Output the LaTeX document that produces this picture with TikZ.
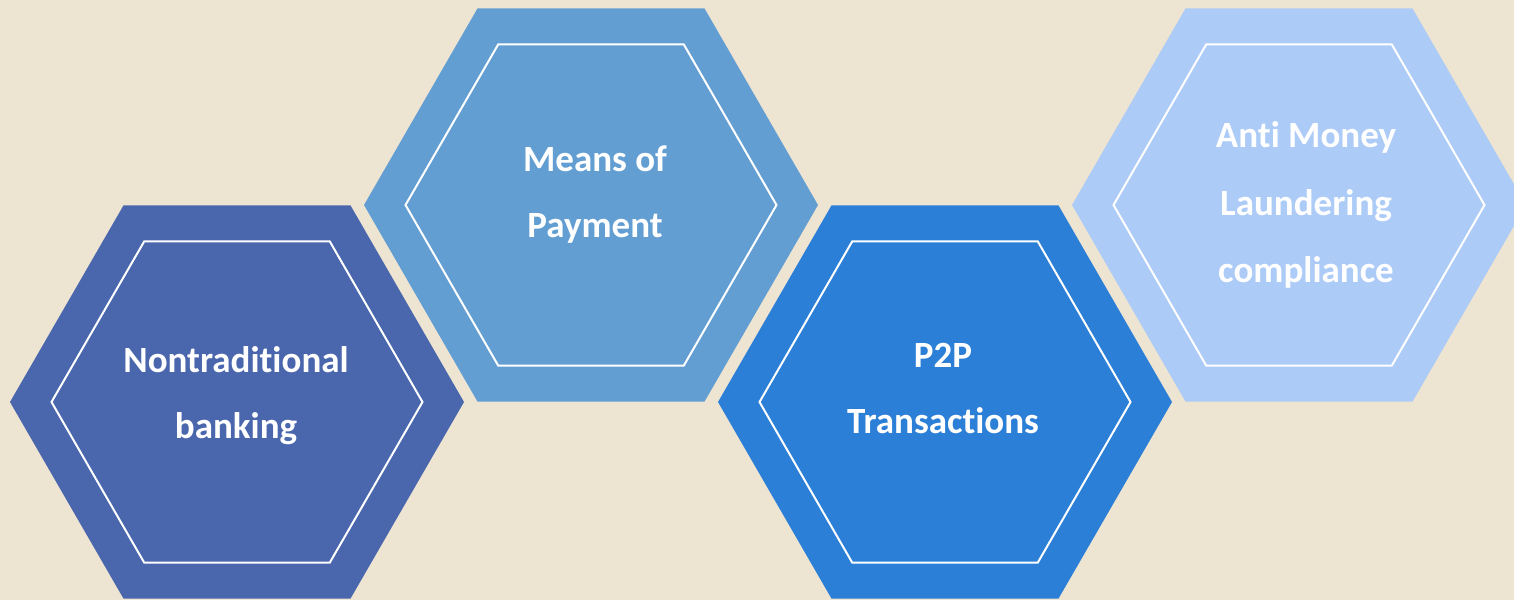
\documentclass[tikz,border=0pt]{standalone}
\usepackage{fontspec}
\setmainfont{Carlito}[Ligatures=NoCommon]
\usetikzlibrary{shapes.geometric}
\definecolor{bgc}{RGB}{237,228,210}
\definecolor{hexa}{RGB}{74,103,173}
\definecolor{hexb}{RGB}{99,158,210}
\definecolor{hexc}{RGB}{44,127,214}
\definecolor{hexd}{RGB}{173,203,247}
\newcommand{\tisep}{t\kern0pt i}
\tikzset{
  outerhex/.style={regular polygon, regular polygon sides=6, shape border rotate=0,
    minimum size=454pt, inner sep=0pt, draw=none},
  innerhex/.style={regular polygon, regular polygon sides=6,
    minimum size=371pt, inner sep=0pt, draw=white, line width=2pt},
  lbl/.style={anchor=base, text=white, font=\fontsize{37}{44}\selectfont\bfseries, inner sep=0pt}
}
\begin{document}
\begin{tikzpicture}[x=1pt,y=-1pt]
\fill[bgc] (0,0) rectangle (1514,600);
\useasboundingbox (0,0) rectangle (1514,600);
% hexagons
\node[outerhex, fill=hexa] (h1) at (237,402) {};
\node[innerhex] (i1) at (237,402) {};
\node[outerhex, fill=hexb] (h2) at (591,205) {};
\node[innerhex] (i2) at (591,205) {};
\node[outerhex, fill=hexc] (h3) at (945,402) {};
\node[innerhex] (i3) at (945,402) {};
\node[outerhex, fill=hexd] (h4) at (1299,205) {};
\node[innerhex] (i4) at (1299,205) {};
% labels
\node[lbl] (t1a) at (236,372) {Nontradi\tisep onal};
\node[lbl] (t1b) at (236,438) {banking};
\node[lbl] (t2a) at (595,171) {Means of};
\node[lbl] (t2b) at (595,237) {Payment};
\node[lbl] (t3a) at (943,367) {P2P};
\node[lbl] (t3b) at (943,433) {Transac\tisep ons};
\node[lbl] (t4a) at (1306,147) {An\tisep{} Money};
\node[lbl] (t4b) at (1306,215) {Laundering};
\node[lbl] (t4c) at (1306,282) {compliance};
\end{tikzpicture}
\end{document}
